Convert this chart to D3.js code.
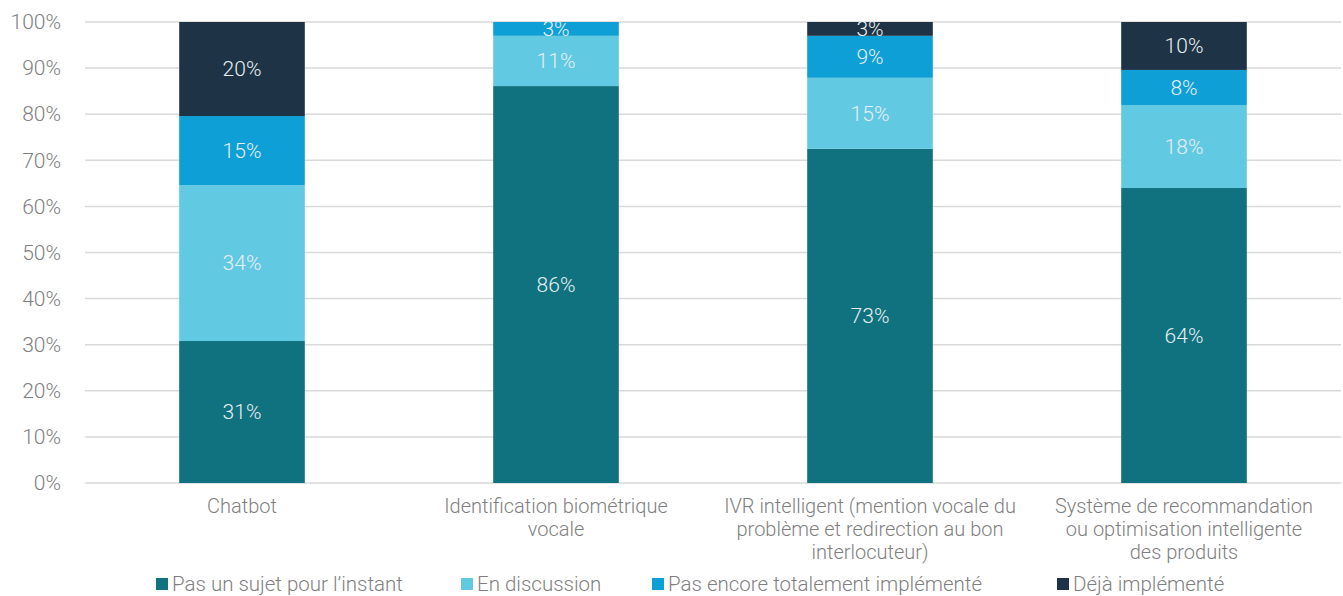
<!DOCTYPE html>
<html>
<head>
<meta charset="utf-8">
<script src="https://cdn.jsdelivr.net/npm/d3@7"></script>
<style>
  body { margin: 0; background: #fff; }
  text { font-family: Roboto, "Liberation Sans", sans-serif; font-weight: 300; }
</style>
</head>
<body>
<div id="chart"></div>
<script>
// chart data
const categories = [
    ["Chatbot"],
    ["Identification biométrique", "vocale"],
    ["IVR intelligent (mention vocale du", "problème et redirection au bon", "interlocuteur)"],
    ["Système de recommandation", "ou optimisation intelligente", "des produits"]
];
const seriesNames = ["Pas un sujet pour l’instant", "En discussion", "Pas encore totalement implémenté", "Déjà implémenté"];
const seriesColors = ["#10717f", "#62c9e3", "#0d9fd5", "#1e3345"];
const pasUnSujet = [30.8, 86.1, 72.5, 64.0];
const enDiscussion = [33.8, 10.9, 15.4, 18.0];
const pasEncore = [15.0, 3.0, 9.1, 7.6];
const dejaImpl = [20.4, 0, 3.0, 10.4];
const yTicks = [0, 10, 20, 30, 40, 50, 60, 70, 80, 90, 100];

const width = 1343, height = 596;
const margin = {top: 22, right: 2, bottom: 113, left: 85};
const innerW = width - margin.left - margin.right;
const innerH = height - margin.top - margin.bottom;

const svg = d3.select("#chart").append("svg")
    .attr("width", width)
    .attr("height", height);

const g = svg.append("g")
    .attr("transform", `translate(${margin.left},${margin.top})`);

const x = d3.scaleBand()
    .domain(d3.range(categories.length))
    .range([0, innerW])
    .paddingInner(0.6)
    .paddingOuter(0.3);

const y = d3.scaleLinear().domain([0, 100]).range([innerH, 0]);

// gridlines
g.append("g")
    .selectAll("line")
    .data(yTicks)
    .join("line")
    .attr("x1", 0)
    .attr("x2", innerW)
    .attr("y1", d => y(d))
    .attr("y2", d => y(d))
    .attr("stroke", "#d9d9d9")
    .attr("stroke-width", 1.5);

// y axis labels
const yAxis = d3.axisLeft(y).tickValues(yTicks).tickFormat(d => d + "%").tickSize(0).tickPadding(24);
const yg = g.append("g").call(yAxis);
yg.select(".domain").remove();
yg.selectAll("text")
    .attr("font-size", 21)
    .attr("fill", "#808080")
    .style("font-family", "Roboto, sans-serif")
    .style("font-weight", 300);

// stack the data
const rows = categories.map((c, i) => ({
    idx: i,
    s0: pasUnSujet[i], s1: enDiscussion[i], s2: pasEncore[i], s3: dejaImpl[i]
}));
const stack = d3.stack().keys(["s0", "s1", "s2", "s3"]);
const layers = stack(rows);

const layerG = g.selectAll(".layer")
    .data(layers)
    .join("g")
    .attr("class", "layer")
    .attr("fill", (d, i) => seriesColors[i]);

layerG.selectAll("rect")
    .data(d => d)
    .join("rect")
    .attr("x", d => x(d.data.idx))
    .attr("width", x.bandwidth())
    .attr("y", d => y(d[1]))
    .attr("height", d => y(d[0]) - y(d[1]));

// value labels
layers.forEach(layer => {
    g.append("g")
        .selectAll("text")
        .data(layer.filter(d => d[1] - d[0] > 0))
        .join("text")
        .attr("x", d => x(d.data.idx) + x.bandwidth() / 2)
        .attr("y", d => y((d[0] + d[1]) / 2))
        .attr("dy", "0.35em")
        .attr("text-anchor", "middle")
        .attr("font-size", 21)
        .attr("fill", "#e6eef2")
        .text(d => Math.round(d[1] - d[0]) + "%");
});

// category labels
const catG = g.append("g")
    .selectAll("text")
    .data(categories)
    .join("text")
    .attr("x", (d, i) => x(i) + x.bandwidth() / 2)
    .attr("y", innerH + 30)
    .attr("text-anchor", "middle")
    .attr("font-size", 20)
    .attr("fill", "#7f7f7f");

catG.selectAll("tspan")
    .data(d => d)
    .join("tspan")
    .attr("x", function() { return this.parentNode.getAttribute("x"); })
    .attr("dy", (d, i) => i === 0 ? 0 : 23)
    .text(d => d);

// legend
const legendX = [156, 461, 652, 1057];
const legend = svg.append("g")
    .selectAll("g")
    .data(seriesNames)
    .join("g")
    .attr("transform", (d, i) => `translate(${legendX[i]},${584})`);

legend.append("rect")
    .attr("x", 0)
    .attr("y", -6)
    .attr("width", 12)
    .attr("height", 12)
    .attr("fill", (d, i) => seriesColors[i]);

legend.append("text")
    .attr("x", 16)
    .attr("dy", "0.35em")
    .attr("font-size", 20.5)
    .attr("fill", "#7f7f7f")
    .text(d => d);
</script>
</body>
</html>
